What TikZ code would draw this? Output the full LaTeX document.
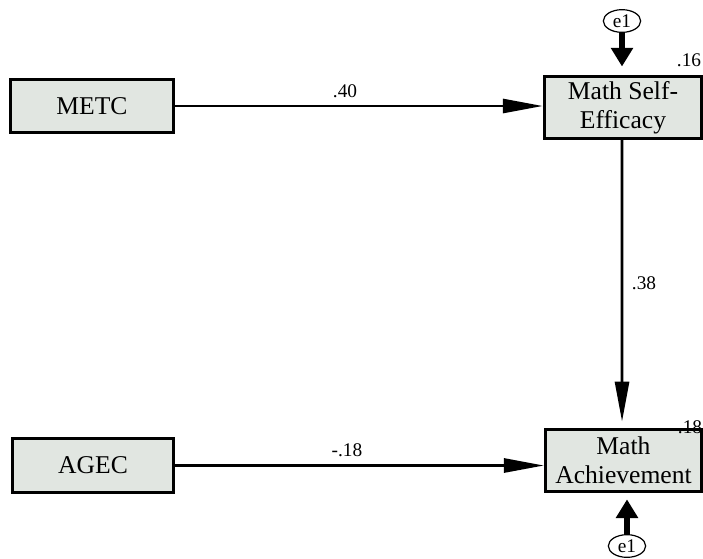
\documentclass[tikz,border=0pt]{standalone}
\usepackage{fontspec}
\setmainfont{Liberation Serif}
\usetikzlibrary{arrows.meta,shapes.geometric}
\definecolor{boxfill}{RGB}{225,230,225}
\tikzset{
  varbox/.style={draw=black, line width=2.3pt, fill=boxfill, inner sep=0pt,
    align=center, font=\fontsize{19.2}{21.5}\selectfont},
  errnode/.style={draw=black, ellipse, line width=0.9pt, inner sep=0pt,
    minimum width=28pt, minimum height=17pt, font=\fontsize{14.5}{15}\selectfont},
  pathto/.style={line width=2.1pt, -{Triangle[length=30pt, width=10.5pt]}},
  errto/.style={line width=4.2pt, -{Triangle[length=14pt, width=16pt]}},
  coef/.style={font=\fontsize{14.5}{16}\selectfont}
}
\begin{document}
\begin{tikzpicture}[x=0.75pt, y=-0.75pt]
  \useasboundingbox (0,0) rectangle (703,558);
  % observed variables
  \node[varbox, minimum width=122pt, minimum height=40pt] (metc) at (92,106) {METC};
  \node[varbox, minimum width=121pt, minimum height=40pt] (agec) at (93,465.5) {AGEC};
  \node[varbox, minimum width=118pt, minimum height=46pt] (mse) at (623,107.5) {Math Self-\\Efficacy};
  \node[varbox, minimum width=117pt, minimum height=47pt] (mach) at (623.5,460.5) {Math\\Achievement};
  % error terms
  \node[errnode] (e1top) at (622,21) {e1};
  \node[errnode] (e1bot) at (627,546) {e1};
  % paths
  \draw[pathto] (metc.east) -- (metc.east -| mse.west);
  \draw[pathto] (agec.east) -- (agec.east -| mach.west);
  \draw[pathto, shorten >=4.5pt] ([xshift=-0.75pt]mse.south) -- ([xshift=-1.1pt]mach.north);
  \draw[errto, shorten >=6.6pt] (e1top.south) -- (e1top.south |- mse.north);
  \draw[errto, shorten >=4.5pt] (e1bot.north) -- (e1bot.north |- mach.south);
  % coefficients
  \node[coef] (c1) at (345,91) {.40};
  \node[coef] (c2) at (347,450) {-.18};
  \node[coef] (c3) at (644,283) {.38};
  \node[coef] (r1) at (689,60) {.16};
  \node[coef] (r2) at (690,427) {.18};
\end{tikzpicture}
\end{document}
